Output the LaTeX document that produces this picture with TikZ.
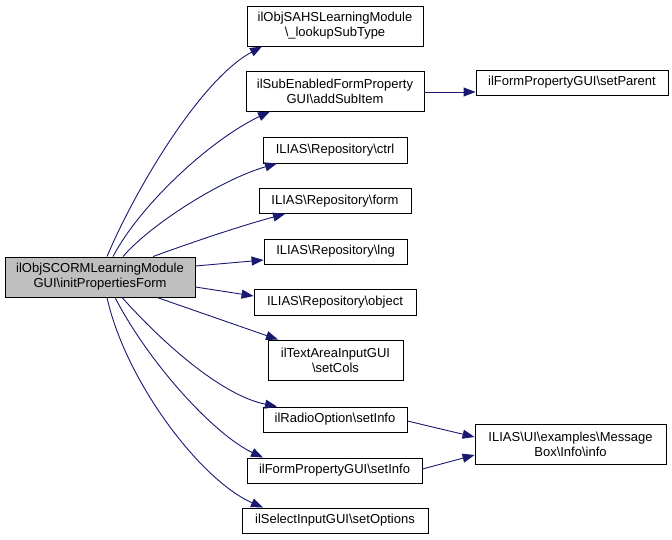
\documentclass[tikz,border=0pt]{standalone}
\usepackage{fontspec}
\setmainfont{Liberation Sans}
\usetikzlibrary{arrows.meta}
\definecolor{edgeblue}{HTML}{191970}
\definecolor{mainfill}{HTML}{BFBFBF}
\newcommand{\bs}{\textbackslash}
\begin{document}
\begin{tikzpicture}[x=1pt,y=-1pt,
  box/.style={draw=black,line width=0.9pt,fill=white,inner sep=0pt,align=center,
    font=\fontsize{13}{15}\selectfont},
  mainbox/.style={box,fill=mainfill},
  edge/.style={draw=edgeblue,line width=0.9pt,-{Triangle[length=12pt,width=9pt]}}]
\useasboundingbox (0,0) rectangle (672,539);
% nodes
\node[mainbox,minimum width=190pt,minimum height=40pt] (main) at (100,277) {ilObjSCORMLearningModule\\GUI\bs initPropertiesForm};
\node[box,minimum width=176pt,minimum height=40pt] (lookup) at (335,26) {ilObjSAHSLearningModule\\\bs\_lookupSubType};
\node[box,minimum width=178pt,minimum height=40pt] (addsub) at (335,91) {ilSubEnabledFormProperty\\GUI\bs addSubItem};
\node[box,minimum width=144pt,minimum height=26pt] (ctrl) at (335,150) {ILIAS\bs Repository\bs ctrl};
\node[box,minimum width=152pt,minimum height=25pt] (form) at (335,201) {ILIAS\bs Repository\bs form};
\node[box,minimum width=143pt,minimum height=25pt] (lng) at (335.5,251.5) {ILIAS\bs Repository\bs lng};
\node[box,minimum width=162pt,minimum height=26pt] (object) at (335,302) {ILIAS\bs Repository\bs object};
\node[box,minimum width=135pt,minimum height=40pt] (setcols) at (335.5,360) {ilTextAreaInputGUI\\\bs setCols};
\node[box,minimum width=144pt,minimum height=25pt] (radio) at (335,419.5) {ilRadioOption\bs setInfo};
\node[box,minimum width=175pt,minimum height=25pt] (fpinfo) at (334.5,470.5) {ilFormPropertyGUI\bs setInfo};
\node[box,minimum width=186pt,minimum height=25pt] (setopt) at (335,520.5) {ilSelectInputGUI\bs setOptions};
\node[box,minimum width=191pt,minimum height=40pt] (info) at (570.5,444) {ILIAS\bs UI\bs examples\bs Message\\Box\bs Info\bs info};
\node[box,minimum width=192pt,minimum height=25pt] (setparent) at (572,82.5) {ilFormPropertyGUI\bs setParent};
% edges
\draw[edge] ([xshift=7pt]main.north) .. controls (135,190) and (200,80) .. ([xshift=-73pt]lookup.south);
\draw[edge] ([xshift=13pt]main.north) .. controls (140,205) and (210,140) .. ([xshift=-65pt]addsub.south);
\draw[edge] ([xshift=23pt]main.north) .. controls (150,225) and (220,180) .. ([xshift=-58pt]ctrl.south);
\draw[edge] ([xshift=53pt]main.north) .. controls (190,243) and (240,226) .. ([xshift=-50pt]form.south);
\draw[edge] ([yshift=11pt]main.east) -- ([yshift=-8.5pt]lng.west);
\draw[edge] ([yshift=-10pt]main.east) -- ([yshift=6pt]object.west);
\draw[edge] ([xshift=57pt]main.south) -- ([xshift=-57.5pt]setcols.north);
\draw[edge] ([xshift=22pt]main.south) .. controls (160,340) and (220,395) .. ([xshift=-58pt]radio.north);
\draw[edge] ([xshift=15pt]main.south) .. controls (150,365) and (215,435) .. ([xshift=-71.5pt]fpinfo.north);
\draw[edge] ([xshift=7pt]main.south) .. controls (125,380) and (200,480) .. ([xshift=-72pt]setopt.north);
\draw[edge] ([yshift=-1pt]addsub.east) -- ([yshift=-9.5pt]setparent.west);
\draw[edge] ([yshift=-1.5pt]radio.east) -- ([yshift=7pt]info.west);
\draw[edge] ([yshift=1.5pt]fpinfo.east) -- ([yshift=-11pt]info.west);
\end{tikzpicture}
\end{document}
